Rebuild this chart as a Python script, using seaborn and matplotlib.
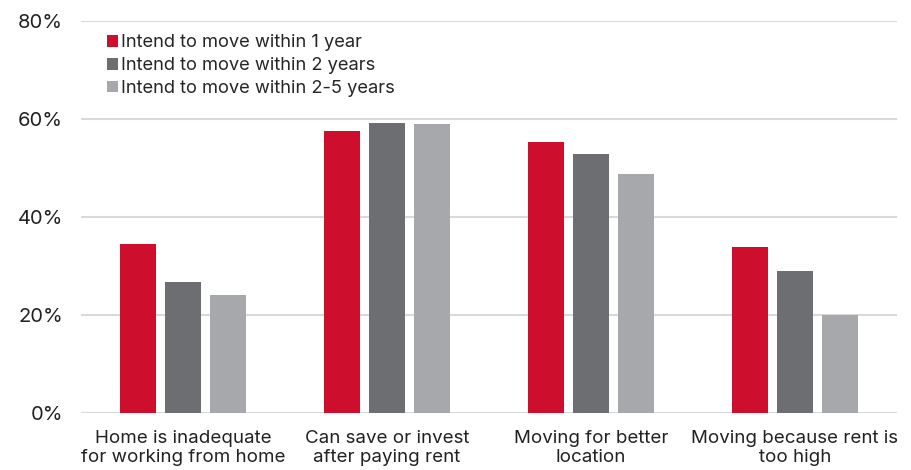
import matplotlib
matplotlib.use('Agg')
import matplotlib.pyplot as plt
import seaborn as sns
import pandas as pd
from matplotlib.ticker import PercentFormatter

#----------------------------------------------------
l_cat=['Home is inadequate\nfor working from home', 'Can save or invest\nafter paying rent',
	'Moving for better\nlocation', 'Moving because rent is\ntoo high']
l_hue=['Intend to move within 1 year', 'Intend to move within 2 years', 'Intend to move within 2-5 years']
v_1yr=[34.5, 57.5, 55.3, 33.9]
v_2yr=[26.7, 59.2, 52.8, 28.9]
v_5yr=[24.1, 59.0, 48.7, 20.1]
cmap=['#CE0E2D', '#6D6E71', '#A7A8AC']

#----------------------------------------------------
df=pd.DataFrame({'reason': l_cat*3, 'group': [h for h in l_hue for _ in l_cat], 'pct': v_1yr+v_2yr+v_5yr})

sns.set_style('white')
plt.rcParams['font.family']=['Inter', 'DejaVu Sans']

fig=plt.figure(figsize=(9.11, 4.70), dpi=100)
ax=fig.add_axes([0.0889, 0.1213, 0.8957, 0.834])
ax.yaxis.grid(True, color='#D9D9D9', lw=1.5)
ax.set_axisbelow(True)
sns.barplot(data=df, x='reason', y='pct', hue='group', hue_order=l_hue, palette=cmap,
	width=0.66, gap=0.2, saturation=1, ax=ax, edgecolor='none')
#adjust
ax.set_xlim(-0.5, 3.5)
ax.set_ylim(0, 80)
ax.set_yticks([0, 20, 40, 60, 80])
ax.yaxis.set_major_formatter(PercentFormatter(decimals=0))
ax.set_xlabel('')
ax.set_ylabel('')
sns.despine(ax=ax, left=True, bottom=True, right=True, top=True)
ax.tick_params(axis='y', length=0, pad=13, labelsize=14.5, labelcolor='#222222')
ax.tick_params(axis='x', length=0, pad=12, labelsize=13.5, labelcolor='#222222')
ax.legend(loc='upper left', bbox_to_anchor=(0.0225, 0.985), frameon=False, fontsize=13.2,
	handlelength=0.62, handleheight=0.62, handletextpad=0.15, labelspacing=0.32, borderaxespad=0)
#save
plt.savefig('out.png', dpi=100)
plt.close()
